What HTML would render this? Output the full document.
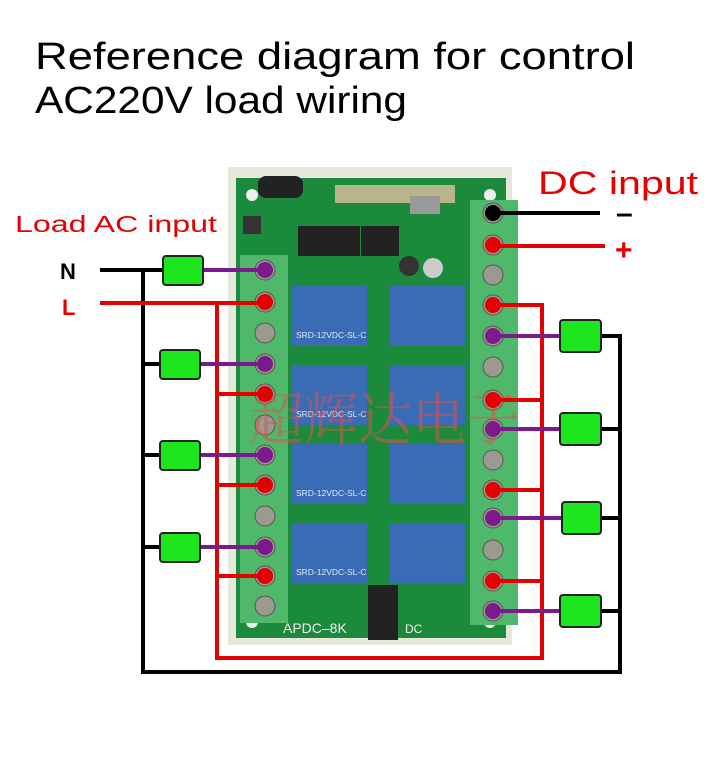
<!DOCTYPE html>
<html><head><meta charset="utf-8"><style>
html,body{margin:0;padding:0;background:#fff;width:718px;height:757px;overflow:hidden}
</style></head><body>
<svg width="718" height="757" viewBox="0 0 718 757" xmlns="http://www.w3.org/2000/svg" font-family="'Liberation Sans', sans-serif">
<rect width="718" height="757" fill="#fff"/>
<text x="35" y="69" font-size="38" textLength="600" lengthAdjust="spacingAndGlyphs" fill="#000">Reference diagram for control</text>
<text x="35" y="113" font-size="38" textLength="372" lengthAdjust="spacingAndGlyphs" fill="#000">AC220V load wiring</text>
<text x="538" y="194" font-size="32" textLength="160" lengthAdjust="spacingAndGlyphs" fill="#e30000">DC input</text>
<text x="15" y="232" font-size="23" textLength="202" lengthAdjust="spacingAndGlyphs" fill="#e30000">Load AC input</text>
<text x="60" y="279" font-size="22" font-weight="bold" fill="#000">N</text>
<text x="62" y="315" font-size="22" font-weight="bold" fill="#e30000">L</text>
<text x="616" y="223" font-size="30" font-weight="bold" fill="#000">–</text>
<text x="615" y="260" font-size="30" font-weight="bold" fill="#e30000">+</text>

<rect x="228" y="167" width="284" height="478" fill="#e6e8dc"/>
<rect x="236" y="178" width="270" height="460" fill="#1c8a3c"/>
<circle cx="252" cy="195" r="6" fill="#eee"/><circle cx="490" cy="195" r="6" fill="#eee"/>
<circle cx="252" cy="622" r="6" fill="#eee"/><circle cx="490" cy="622" r="6" fill="#eee"/>
<rect x="258" y="176" width="45" height="22" rx="8" fill="#222"/>
<rect x="335" y="185" width="120" height="18" fill="#b9b58a"/>
<rect x="410" y="196" width="30" height="18" fill="#999"/>
<rect x="243" y="216" width="18" height="18" fill="#333"/>
<rect x="298" y="226" width="38" height="30" fill="#222"/><rect x="320" y="226" width="40" height="30" fill="#222"/><rect x="361" y="226" width="38" height="30" fill="#222"/>
<circle cx="409" cy="266" r="10" fill="#333"/><circle cx="433" cy="268" r="10" fill="#ccc"/>
<g fill="#3a6bb5">
<rect x="292" y="286" width="75" height="60"/><rect x="390" y="286" width="75" height="60"/>
<rect x="292" y="365" width="75" height="60"/><rect x="390" y="365" width="75" height="60"/>
<rect x="292" y="444" width="75" height="60"/><rect x="390" y="444" width="75" height="60"/>
<rect x="292" y="523" width="75" height="60"/><rect x="390" y="523" width="75" height="60"/>
</g>
<g fill="#dfe8f5" font-size="8.5">
<text x="296" y="338">SRD-12VDC-SL-C</text><text x="296" y="417">SRD-12VDC-SL-C</text>
<text x="296" y="496">SRD-12VDC-SL-C</text><text x="296" y="575">SRD-12VDC-SL-C</text>
</g>
<rect x="368" y="585" width="30" height="55" fill="#222"/>
<text x="283" y="633" font-size="14" fill="#eee">APDC–8K</text>
<text x="405" y="633" font-size="12" fill="#eee">DC</text>
<rect x="240" y="255" width="48" height="368" fill="#4fb86a"/>
<rect x="470" y="200" width="48" height="425" fill="#4fb86a"/>
<g fill="#9a9a8e" stroke="#555" stroke-width="1">
<circle cx="265" cy="270" r="10"/><circle cx="265" cy="302" r="10"/><circle cx="265" cy="333" r="10"/><circle cx="265" cy="364" r="10"/><circle cx="265" cy="394" r="10"/><circle cx="265" cy="425" r="10"/><circle cx="265" cy="455" r="10"/><circle cx="265" cy="485" r="10"/><circle cx="265" cy="516" r="10"/><circle cx="265" cy="547" r="10"/><circle cx="265" cy="576" r="10"/><circle cx="265" cy="606" r="10"/>
<circle cx="493" cy="213" r="10"/><circle cx="493" cy="245" r="10"/><circle cx="493" cy="275" r="10"/><circle cx="493" cy="305" r="10"/><circle cx="493" cy="336" r="10"/><circle cx="493" cy="367" r="10"/><circle cx="493" cy="400" r="10"/><circle cx="493" cy="429" r="10"/><circle cx="493" cy="460" r="10"/><circle cx="493" cy="490" r="10"/><circle cx="493" cy="518" r="10"/><circle cx="493" cy="550" r="10"/><circle cx="493" cy="581" r="10"/><circle cx="493" cy="611" r="10"/>
</g>
<text x="250" y="440" font-size="58" fill="#e05050" fill-opacity="0.55" font-family="'Liberation Serif','Noto Serif CJK SC',serif" textLength="270" lengthAdjust="spacingAndGlyphs">超辉达电子</text>

<g fill="none" stroke-width="4">
<polyline stroke="#000" points="100,270 165,270"/>
<polyline stroke="#000" points="143,270 143,672 620,672 620,336 600,336"/>
<line stroke="#000" x1="143" y1="364" x2="162" y2="364"/>
<line stroke="#000" x1="143" y1="455" x2="162" y2="455"/>
<line stroke="#000" x1="143" y1="547" x2="162" y2="547"/>
<line stroke="#000" x1="620" y1="429" x2="600" y2="429"/>
<line stroke="#000" x1="620" y1="518" x2="600" y2="518"/>
<line stroke="#000" x1="620" y1="611" x2="600" y2="611"/>
<line stroke="#000" x1="493" y1="213" x2="600" y2="213"/>
<line stroke="#e30000" x1="493" y1="246" x2="605" y2="246"/>
<polyline stroke="#e30000" points="100,303 265,303"/>
<polyline stroke="#e30000" points="217,303 217,658 542,658 542,305 493,305"/>
<line stroke="#e30000" x1="217" y1="394" x2="265" y2="394"/>
<line stroke="#e30000" x1="217" y1="485" x2="265" y2="485"/>
<line stroke="#e30000" x1="217" y1="576" x2="265" y2="576"/>
<line stroke="#e30000" x1="542" y1="400" x2="493" y2="400"/>
<line stroke="#e30000" x1="542" y1="490" x2="493" y2="490"/>
<line stroke="#e30000" x1="542" y1="581" x2="493" y2="581"/>
<g stroke="#7b1a8c">
<line x1="200" y1="270" x2="265" y2="270"/>
<line x1="198" y1="364" x2="265" y2="364"/>
<line x1="198" y1="455" x2="265" y2="455"/>
<line x1="198" y1="547" x2="265" y2="547"/>
<line x1="493" y1="336" x2="562" y2="336"/>
<line x1="493" y1="429" x2="562" y2="429"/>
<line x1="493" y1="518" x2="562" y2="518"/>
<line x1="493" y1="611" x2="562" y2="611"/>
</g>
</g>
<g fill="#e30000"><circle cx="493" cy="245" r="8"/><circle cx="265" cy="302" r="8"/><circle cx="265" cy="394" r="8"/><circle cx="265" cy="485" r="8"/><circle cx="265" cy="576" r="8"/><circle cx="493" cy="305" r="8"/><circle cx="493" cy="400" r="8"/><circle cx="493" cy="490" r="8"/><circle cx="493" cy="581" r="8"/></g>
<g fill="#7b1a8c"><circle cx="265" cy="270" r="8"/><circle cx="265" cy="364" r="8"/><circle cx="265" cy="455" r="8"/><circle cx="265" cy="547" r="8"/><circle cx="493" cy="336" r="8"/><circle cx="493" cy="429" r="8"/><circle cx="493" cy="518" r="8"/><circle cx="493" cy="611" r="8"/></g>
<circle cx="493" cy="213" r="8" fill="#000"/>
<g fill="#1ee61e" stroke="#222" stroke-width="2">
<rect x="163" y="256" width="40" height="29" rx="3"/>
<rect x="160" y="350" width="40" height="29" rx="3"/>
<rect x="160" y="441" width="40" height="29" rx="3"/>
<rect x="160" y="533" width="40" height="29" rx="3"/>
<rect x="560" y="320" width="41" height="32" rx="3"/>
<rect x="560" y="413" width="41" height="32" rx="3"/>
<rect x="562" y="502" width="39" height="32" rx="3"/>
<rect x="560" y="595" width="41" height="32" rx="3"/>
</g>
</svg>
</body></html>
